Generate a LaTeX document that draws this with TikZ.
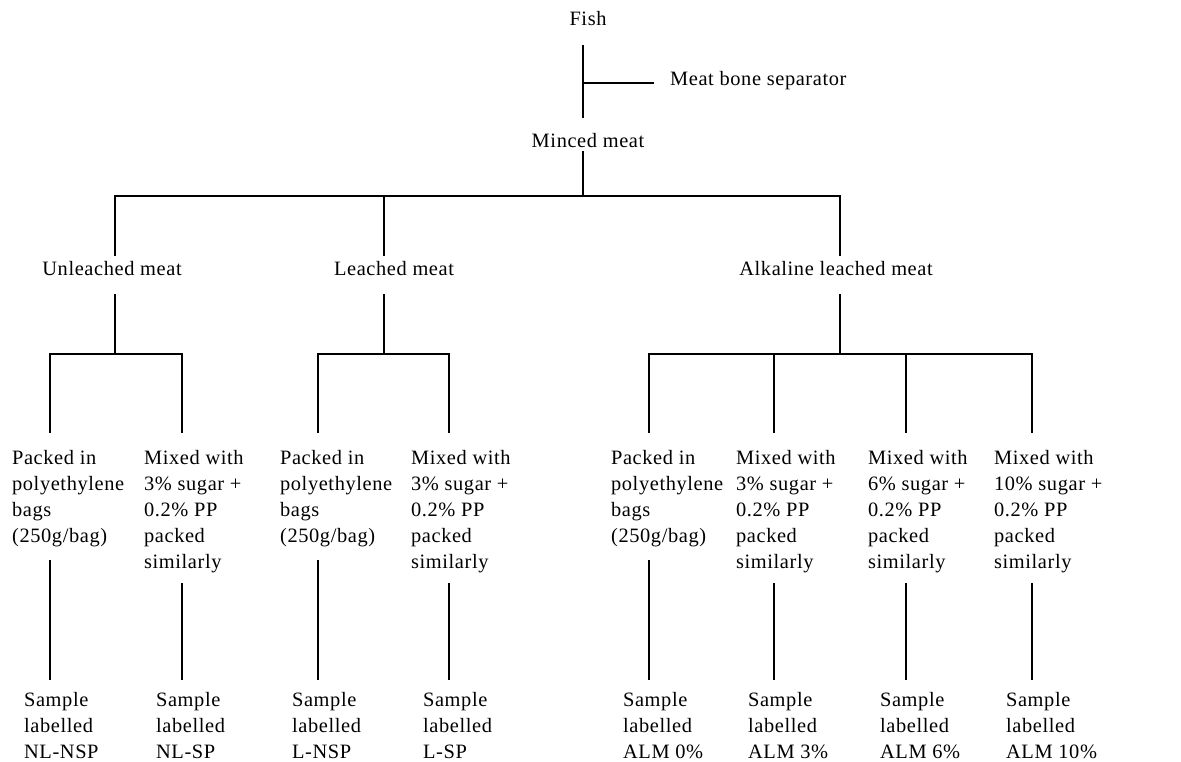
\documentclass[tikz,border=0pt]{standalone}
\usepackage{fontspec}
\setmainfont{Liberation Serif}[LetterSpace=3]
\newcommand{\packedtext}{Packed in\\polyethylene\\bags\\(250g/bag)}
\newcommand{\mixedtext}[1]{Mixed with\\#1\% sugar +\\0.2\% PP\\packed\\similarly}

\begin{document}
\begin{tikzpicture}[x=0.5pt,y=-0.5pt,line width=1.1pt,line cap=rect,
		every node/.style={font=\fontsize{10.2pt}{13pt}\selectfont,inner sep=0pt},
		stage/.style={anchor=base,text height=7pt,text depth=2pt},
		leaf/.style={anchor=north west,align=left}]
		\useasboundingbox (0,0) rectangle (1181,761);
		\node[stage] (fish) at (588,25) {Fish};
		\node[stage,anchor=base west] (mbs) at (669,85) {Meat bone separator};
		\node[stage] (minced) at (588,147) {Minced meat};
		\node[stage] (unl) at (112,275) {Unleached meat};
		\node[stage] (lea) at (394,275) {Leached meat};
		\node[stage] (alk) at (836,275) {Alkaline leached meat};
		\coordinate (jbone) at (583,83);
		\coordinate (jm) at (583,196);
		\coordinate (ju) at (115,196);
		\coordinate (jl) at (384,196);
		\coordinate (ja) at (840,196);
		\coordinate (ku) at (115,354);
		\coordinate (kl) at (384,354);
		\coordinate (ka) at (840,354);
		\draw[shorten <=8pt,shorten >=7.5pt] (fish.south -| jm) -- (minced.north -| jm);
		\draw[shorten >=8pt] (jbone) -- (mbs.west |- jbone);
		\draw (minced.south -| jm) -- (jm);
		\draw (ju) -- (ja);
		\draw[shorten >=2.5pt] (ju) -- (unl.north -| ju);
		\draw[shorten >=2.5pt] (jl) -- (lea.north -| jl);
		\draw[shorten >=2.5pt] (ja) -- (alk.north -| ja);
		\draw[shorten <=7.5pt] (unl.south -| ku) -- (ku);
		\draw[shorten <=7.5pt] (lea.south -| kl) -- (kl);
		\draw[shorten <=7.5pt] (alk.south -| ka) -- (ka);
		\foreach \n/\x/\txt/\gap/\smp in {
			1/50/\packedtext/6.5pt/NL-NSP,
			2/182/\mixedtext{3}/5.3pt/NL-SP,
			3/318/\packedtext/6.5pt/L-NSP,
			4/449/\mixedtext{3}/5.3pt/L-SP,
			5/649/\packedtext/6.5pt/ALM 0\%,
			6/774/\mixedtext{3}/5.3pt/ALM 3\%,
			7/906/\mixedtext{6}/5.3pt/ALM 6\%,
			8/1032/\mixedtext{10}/5.3pt/ALM 10\%}{
			\coordinate (t\n) at (\x,354);
			\node[leaf] (p\n) at (\x-39,449) {\txt};
			\node[leaf] (s\n) at (\x-27,691) {Sample\\labelled\\\smp};
			\draw[shorten >=8.5pt] (t\n) -- (p\n.north -| t\n);
			\draw[shorten <=\gap,shorten >=6pt] (p\n.south -| t\n) -- (s\n.north -| t\n);
		}
		\draw (t1) -- (t2);
		\draw (t3) -- (t4);
		\draw (t5) -- (t8);
	\end{tikzpicture}
\end{document}
